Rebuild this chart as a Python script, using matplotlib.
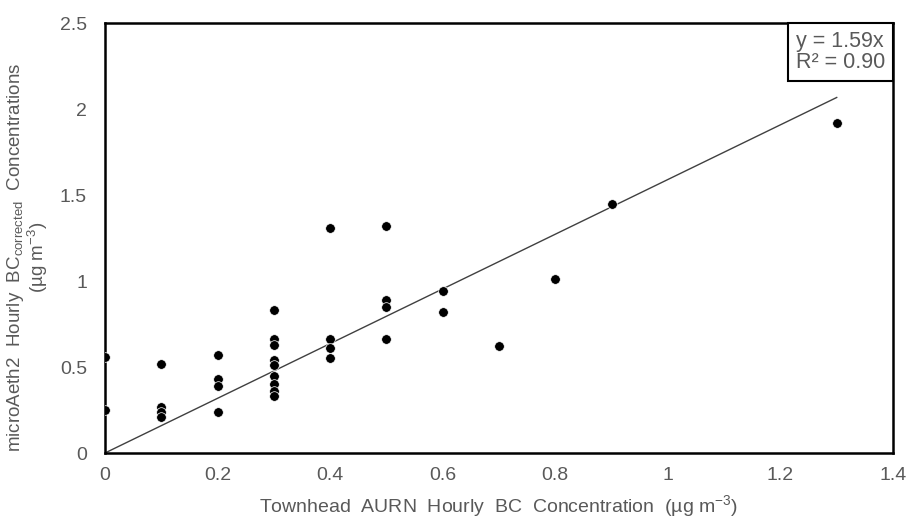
import matplotlib
matplotlib.use("Agg")
import matplotlib.pyplot as plt
from matplotlib.patches import Rectangle
import numpy as np

plt.rcParams['font.family'] = ['Liberation Sans', 'DejaVu Sans']

x_vals = [0, 0,
          0.1, 0.1, 0.1, 0.1,
          0.2, 0.2, 0.2, 0.2,
          0.3, 0.3, 0.3, 0.3, 0.3, 0.3, 0.3, 0.3, 0.3,
          0.4, 0.4, 0.4, 0.4,
          0.5, 0.5, 0.5, 0.5,
          0.6, 0.6,
          0.7, 0.8, 0.9, 1.3]
y_vals = [0.56, 0.25,
          0.52, 0.27, 0.24, 0.21,
          0.57, 0.43, 0.39, 0.24,
          0.83, 0.66, 0.63, 0.54, 0.51, 0.45, 0.40, 0.36, 0.33,
          1.31, 0.66, 0.61, 0.55,
          1.32, 0.89, 0.85, 0.66,
          0.94, 0.82,
          0.62, 1.01, 1.45, 1.92]
slope = 1.59
r2 = 0.90
x_ticks = [0, 0.2, 0.4, 0.6, 0.8, 1, 1.2, 1.4]
y_ticks = [0, 0.5, 1, 1.5, 2, 2.5]

fig = plt.figure(figsize=(9.09, 5.19), dpi=100)
ax = fig.add_axes([105/909, 1-453/519, (893-105)/909, (453-23)/519])

gray = '#595959'
xl = np.array([0, 1.3])
ax.plot(xl, slope*xl, color='#404040', lw=1.0, zorder=2)
ax.scatter(x_vals, y_vals, s=48, color='black', edgecolors='white', linewidths=0.5, zorder=3)

ax.set_xlim(0, 1.4)
ax.set_ylim(0, 2.5)
ax.set_xticks(x_ticks)
ax.set_xticklabels([f"{t:g}" for t in x_ticks])
ax.set_yticks(y_ticks)
ax.set_yticklabels([f"{t:g}" for t in y_ticks])
ax.tick_params(length=0, labelsize=14, colors=gray)
ax.tick_params(axis='x', pad=10)
ax.tick_params(axis='y', pad=13)
for s in ax.spines.values():
    s.set_color('black')
    s.set_linewidth(1.8)

ax.set_xlabel("Townhead  AURN  Hourly  BC  Concentration  (µg m$^{\\mathregular{-3}}$)",
              fontsize=14, color=gray, labelpad=7)
ax.set_ylabel("microAeth2  Hourly  BC$_{\\mathregular{corrected}}$  Concentrations\n(µg m$^{\\mathregular{-3}}$)",
              fontsize=13.5, color=gray, linespacing=0.95)
ax.yaxis.set_label_coords(-0.07, 0.455)

bw, bh = 105/788, 58/430
ax.add_patch(Rectangle((1-bw, 1-bh), bw, bh, transform=ax.transAxes,
                       fc='white', ec='black', lw=1.5, zorder=5, clip_on=False))
ax.text(1-bw/2, 1-bh/2, f"y = {slope:.2f}x\nR² = {r2:.2f}", transform=ax.transAxes,
        ha='center', va='center', fontsize=15.5, color=gray, linespacing=1.0, zorder=6,
        multialignment='left')

fig.savefig("out.png", dpi=100)
